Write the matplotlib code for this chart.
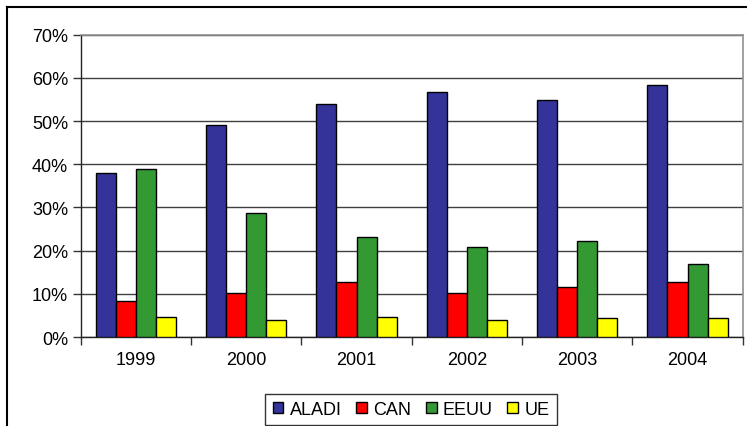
import matplotlib
matplotlib.use("Agg")
import matplotlib.pyplot as plt
import numpy as np
from matplotlib.lines import Line2D
from matplotlib.ticker import FuncFormatter, FixedLocator

plt.rcParams['font.family'] = ['Liberation Sans', 'DejaVu Sans']

years = ['1999', '2000', '2001', '2002', '2003', '2004']
series_names = ['ALADI', 'CAN', 'EEUU', 'UE']
aladi = [37.9, 49.1, 53.9, 56.8, 54.9, 58.3]
can = [8.4, 10.3, 12.8, 10.3, 11.6, 12.8]
eeuu = [38.8, 28.8, 23.1, 20.9, 22.3, 16.8]
ue = [4.6, 4.0, 4.6, 4.0, 4.3, 4.3]
colors = ['#333399', '#FF0000', '#339933', '#FFFF00']
y_ticks = [0, 10, 20, 30, 40, 50, 60, 70]

fig = plt.figure(figsize=(7.47, 4.27), dpi=100)
ax = fig.add_axes([0.108, 0.2084, 0.8862, 0.708])

x = np.arange(len(years))
bw = 1 / 5.5
data = [aladi, can, eeuu, ue]
for i, (vals, name, c) in enumerate(zip(data, series_names, colors)):
    ax.bar(x + (i - 1.5) * bw, vals, width=bw, color=c, edgecolor='black',
           linewidth=1.0, label=name, zorder=3)

FS = 13
ax.set_xlim(-0.5, len(years) - 0.5)
ax.set_ylim(0, 70)
ax.yaxis.set_major_locator(FixedLocator(y_ticks))
ax.yaxis.set_major_formatter(FuncFormatter(lambda v, p: f"{int(v)}%"))
ax.grid(axis='y', color='#404040', linewidth=1.0, zorder=0)

ax.set_xticks(x)
ax.set_xticklabels(years)
ax.set_xticks(np.arange(-0.5, len(years)), minor=True)
ax.tick_params(axis='x', which='major', length=0, pad=10, labelsize=FS)
ax.tick_params(axis='x', which='minor', length=6, width=1, color='#333333', direction='out')
ax.tick_params(axis='y', length=6, width=1, color='#333333', direction='out', pad=3, labelsize=FS)

for s in ['top', 'right']:
    ax.spines[s].set_color('#909090')
    ax.spines[s].set_linewidth(1.2)
for s in ['left', 'bottom']:
    ax.spines[s].set_color('#222222')
    ax.spines[s].set_linewidth(1.0)
ax.spines['top'].set_zorder(4)

leg = fig.legend(loc='center', bbox_to_anchor=(411 / 747, 1 - 410.5 / 427), ncol=4,
                 fontsize=FS, frameon=True, fancybox=False, edgecolor='black',
                 handlelength=0.6, handleheight=0.6, handletextpad=0.35,
                 columnspacing=0.8, borderpad=0.4, borderaxespad=0)
leg.get_frame().set_linewidth(1.0)

# outer chart frame (partially cropped)
fig.add_artist(Line2D([7 / 747, 1.0], [1 - 8 / 427, 1 - 8 / 427], color='black',
                      linewidth=1.5, transform=fig.transFigure))
fig.add_artist(Line2D([7 / 747, 7 / 747], [0, 1 - 8 / 427], color='black',
                      linewidth=1.5, transform=fig.transFigure))

fig.savefig('out.png', dpi=100)
